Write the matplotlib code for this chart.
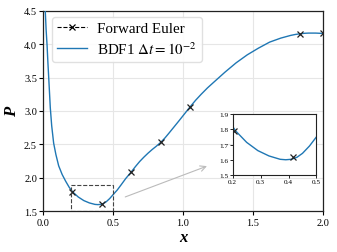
import matplotlib
matplotlib.use("Agg")
import matplotlib.pyplot as plt
from matplotlib.lines import Line2D
from matplotlib.patches import Rectangle

plt.rcParams['font.family'] = 'serif'
plt.rcParams['font.serif'] = ['Liberation Serif', 'STIXGeneral', 'DejaVu Serif']
plt.rcParams['mathtext.fontset'] = 'stix'

# BDF1 curve
x_bdf = [0.008, 0.014, 0.020, 0.027, 0.033, 0.040, 0.050, 0.060, 0.074, 0.090,
         0.110, 0.135, 0.160, 0.185, 0.21, 0.25, 0.29, 0.33, 0.37, 0.39,
         0.41, 0.43, 0.45, 0.475, 0.50, 0.53, 0.555, 0.59, 0.63, 0.66,
         0.69, 0.72, 0.75, 0.78, 0.81, 0.84, 0.87, 0.90, 0.935, 0.97,
         1.01, 1.05, 1.09, 1.13, 1.175, 1.22, 1.26, 1.30, 1.34, 1.38,
         1.42, 1.46, 1.50, 1.54, 1.58, 1.62, 1.66, 1.70, 1.735, 1.77,
         1.805, 1.84, 1.87, 1.90, 1.95, 2.0]
p_bdf = [4.80, 4.50, 4.22, 3.98, 3.72, 3.45, 3.05, 2.78, 2.52, 2.35,
         2.18, 2.05, 1.95, 1.86, 1.79, 1.714, 1.66, 1.625, 1.603, 1.600,
         1.603, 1.616, 1.642, 1.69, 1.75, 1.82, 1.89, 1.99, 2.09, 2.17,
         2.245, 2.31, 2.37, 2.425, 2.475, 2.53, 2.595, 2.67, 2.76, 2.85,
         2.955, 3.06, 3.16, 3.25, 3.345, 3.43, 3.505, 3.58, 3.65, 3.72,
         3.78, 3.84, 3.89, 3.94, 3.985, 4.03, 4.06, 4.09, 4.11, 4.13,
         4.145, 4.155, 4.162, 4.165, 4.165, 4.16]

# Forward Euler markers
x_fe = [0.206, 0.417, 0.631, 0.839, 1.05, 1.837, 2.0]
p_fe = [1.79, 1.616, 2.09, 2.53, 3.06, 4.155, 4.16]

x_ticks = [0.0, 0.5, 1.0, 1.5, 2.0]
y_ticks = [1.5, 2.0, 2.5, 3.0, 3.5, 4.0, 4.5]
inset_xticks = [0.2, 0.3, 0.4, 0.5]
inset_yticks = [1.5, 1.6, 1.7, 1.8, 1.9]

fig = plt.figure(figsize=(3.37, 2.53), dpi=100)
ax = fig.add_axes([0.1285, 0.1609, 0.8291, 0.7929])

blue = '#1f77b4'
ax.plot(x_bdf, p_bdf, color=blue, lw=1.0, zorder=3)
ax.plot(x_fe, p_fe, ls='none', marker='x', ms=4, mew=0.9, color='#222222', zorder=4)

ax.set_xlim(0, 2.0)
ax.set_ylim(1.5, 4.5)
ax.set_xticks(x_ticks)
ax.set_yticks(y_ticks)
ax.set_xticklabels([f"{v:.1f}" for v in x_ticks])
ax.set_yticklabels([f"{v:.1f}" for v in y_ticks])
ax.tick_params(labelsize=7.5, length=3, width=0.8, pad=1.5)
ax.grid(True, color='#e6e6e6', lw=0.8)
ax.set_axisbelow(True)
for s in ax.spines.values():
    s.set_color('#222222')
    s.set_linewidth(0.9)

ax.set_xlabel('x', fontsize=12, fontweight='bold', style='italic', labelpad=2)
ax.set_ylabel('P', fontsize=12, fontweight='bold', style='italic', labelpad=3)

# zoom rectangle
ax.add_patch(Rectangle((0.2, 1.5), 0.3, 0.4, fill=False, ls='--', lw=0.8,
                       edgecolor='#444444', zorder=5))
ax.annotate('', xy=(1.19, 2.19), xytext=(0.568, 1.70),
            arrowprops=dict(arrowstyle='->', color='#bbbbbb', lw=0.8))

handles = [Line2D([], [], ls='--', color='black', lw=0.8, marker='x', ms=4, mew=0.9),
           Line2D([], [], color=blue, lw=1.0)]
ax.legend(handles, ['Forward Euler', r'BDF1 $\Delta t = 10^{-2}$'],
          loc='upper left', bbox_to_anchor=(0.03, 0.97), borderaxespad=0,
          fontsize=10.8, handlelength=2.0, handletextpad=0.7,
          labelspacing=0.3, borderpad=0.35, framealpha=0.9, edgecolor='#dddddd')

# inset
axi = fig.add_axes([0.6905, 0.3043, 0.2485, 0.2412])
axi.plot(x_bdf, p_bdf, color=blue, lw=1.0)
axi.plot(x_fe, p_fe, ls='none', marker='x', ms=4, mew=0.9, color='#222222')
axi.set_xlim(0.2, 0.5)
axi.set_ylim(1.5, 1.9)
axi.set_xticks(inset_xticks)
axi.set_yticks(inset_yticks)
axi.set_xticklabels([f"{v:.1f}" for v in inset_xticks])
axi.set_yticklabels([f"{v:.1f}" for v in inset_yticks])
axi.tick_params(labelsize=5.2, length=2, width=0.6, pad=1)
for s in axi.spines.values():
    s.set_color('#222222')
    s.set_linewidth(0.8)

fig.savefig('out.png', dpi=100)
